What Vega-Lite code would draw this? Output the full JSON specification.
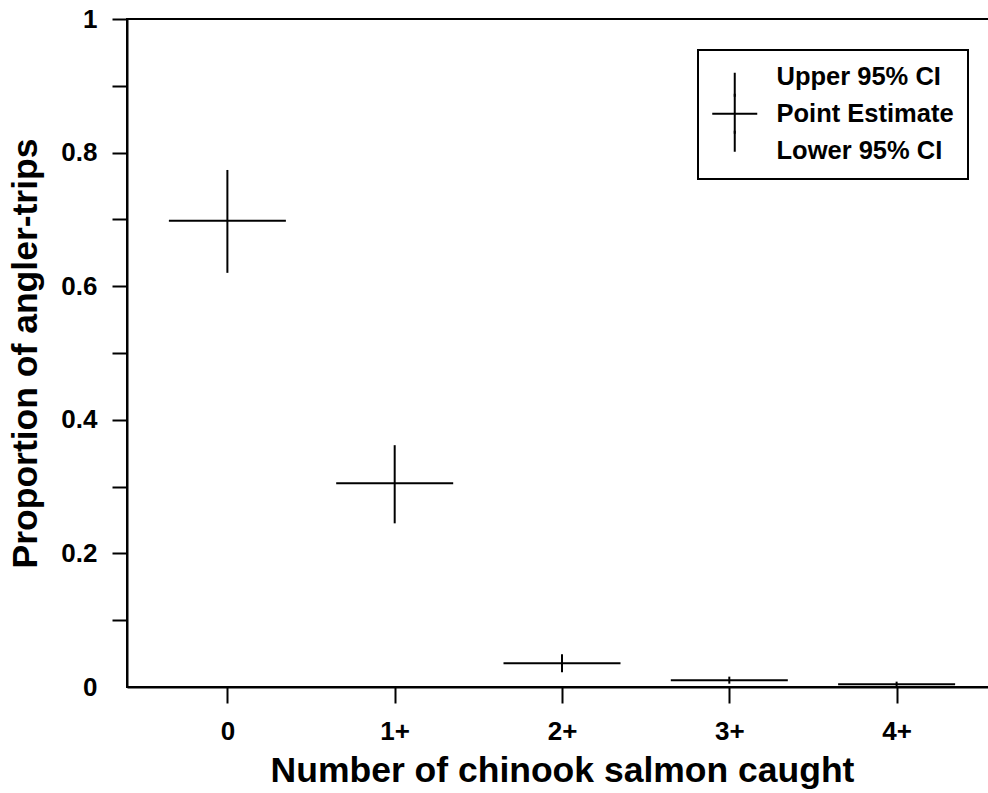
{
  "$schema": "https://vega.github.io/schema/vega-lite/v6.json",
  "width": 870,
  "height": 668,
  "autosize": {"type": "none"},
  "padding": {"left": 127, "top": 19, "right": 0, "bottom": 106},
  "background": "white",
  "data": {
    "values": [
      {"caught": "0", "point": 0.698, "lower": 0.620, "upper": 0.774},
      {"caught": "1+", "point": 0.305, "lower": 0.245, "upper": 0.362},
      {"caught": "2+", "point": 0.0355, "lower": 0.022, "upper": 0.049},
      {"caught": "3+", "point": 0.010, "lower": 0.005, "upper": 0.0155},
      {"caught": "4+", "point": 0.004, "lower": 0.0, "upper": 0.008}
    ]
  },
  "config": {
    "view": {"stroke": "black", "strokeWidth": 2},
    "legend": {"strokeWidth": 2},
    "axis": {
      "grid": false,
      "domainColor": "black",
      "domainWidth": 2,
      "tickColor": "black",
      "tickWidth": 2,
      "labelColor": "black",
      "titleColor": "black",
      "labelFont": "Liberation Sans",
      "labelFontWeight": "bold",
      "labelFontSize": 26,
      "titleFont": "Liberation Sans",
      "titleFontWeight": "bold",
      "titleFontSize": 35.5
    }
  },
  "encoding": {
    "x": {
      "field": "caught",
      "type": "nominal",
      "scale": {"type": "point", "padding": 0.6},
      "axis": {
        "title": "Number of chinook salmon caught",
        "labelAngle": 0,
        "tickSize": 16,
        "labelPadding": 15,
        "titlePadding": 9
      }
    }
  },
  "layer": [
    {
      "mark": {"type": "rule", "color": "black", "strokeWidth": 2},
      "encoding": {
        "y": {
          "field": "lower",
          "type": "quantitative",
          "scale": {"domain": [0, 1]},
          "axis": {
            "title": "Proportion of angler-trips",
            "values": [0, 0.1, 0.2, 0.3, 0.4, 0.5, 0.6, 0.7, 0.8, 0.9, 1],
            "labelExpr": "round(datum.value*10) % 2 == 0 ? format(datum.value, '~g') : ''",
            "tickSize": 15,
            "labelPadding": 15,
            "titlePadding": 17,
            "tickOpacity": {"condition": {"test": "datum.value == 0", "value": 0}, "value": 1}
          }
        },
        "y2": {"field": "upper"}
      }
    },
    {
      "mark": {"type": "tick", "color": "black", "opacity": 1, "size": 117, "thickness": 2},
      "encoding": {
        "y": {"field": "point", "type": "quantitative", "title": "Proportion of angler-trips"}
      }
    },
    {
      "transform": [{"fold": ["upper", "point", "lower"], "as": ["ci", "v"]}],
      "mark": {"type": "point", "filled": false, "opacity": 0, "size": 100, "color": "black"},
      "encoding": {
        "y": {"field": "v", "type": "quantitative", "title": "Proportion of angler-trips"},
        "shape": {
          "field": "ci",
          "type": "nominal",
          "scale": {
            "domain": ["upper", "point", "lower"],
            "range": ["M0,-0.8V4", "M0,-4V4M-4.5,0H4.5", "M0,-4V0.2"]
          },
          "legend": {
            "title": null,
            "orient": "none",
            "legendX": 571,
            "legendY": 31,
            "direction": "vertical",
            "padding": 14,
            "strokeColor": "black",
            "labelFont": "Liberation Sans",
            "labelFontWeight": "bold",
            "labelFontSize": 25.5,
            "labelColor": "black",
            "labelLimit": 400,
            "labelOffset": 29,
            "symbolOffset": 10,
            "rowPadding": -12,
            "symbolSize": 100,
            "symbolStrokeWidth": 2,
            "symbolStrokeColor": "black",
            "symbolFillColor": "transparent",
            "symbolOpacity": 1,
            "labelExpr": "datum.value == 'upper' ? 'Upper 95% CI' : datum.value == 'point' ? 'Point Estimate' : 'Lower 95% CI'"
          }
        }
      }
    }
  ]
}
